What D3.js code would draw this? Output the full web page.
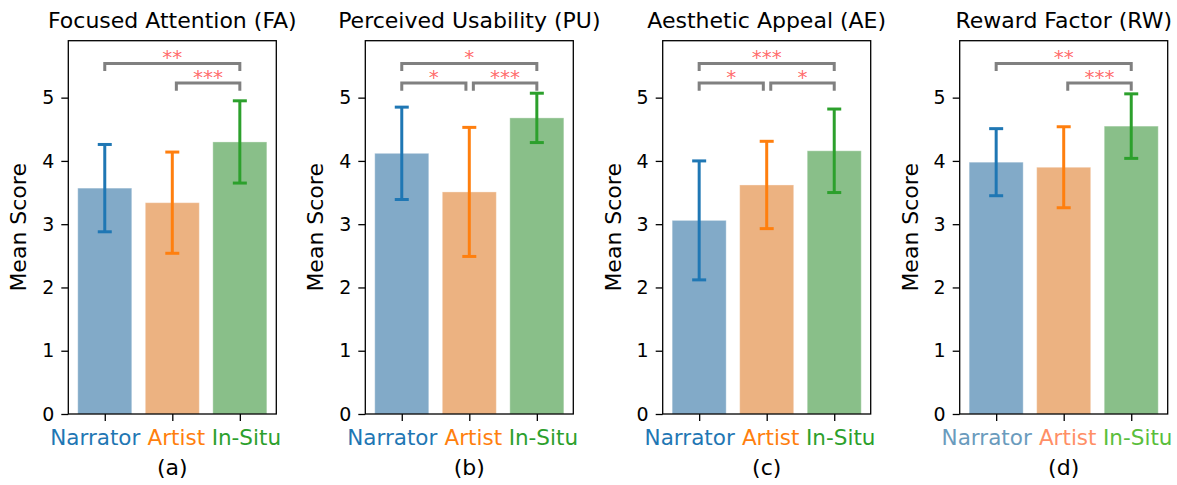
<!DOCTYPE html>
<html>
<head>
<meta charset="utf-8">
<script src="https://cdn.jsdelivr.net/npm/d3@7/dist/d3.min.js"></script>
<style>
  body { margin: 0; background: #fff; }
  svg text { font-family: "DejaVu Sans", sans-serif; }
</style>
</head>
<body>
<div id="chart"></div>
<script>
// ── Data ─────────────────────────────────────────────
const titles    = ["Focused Attention (FA)", "Perceived Usability (PU)", "Aesthetic Appeal (AE)", "Reward Factor (RW)"];
const subLabels = ["(a)", "(b)", "(c)", "(d)"];
const groups    = ["Narrator", "Artist", "In-Situ"];
const means = [
    [3.57, 3.34, 4.30],
    [4.12, 3.51, 4.68],
    [3.06, 3.62, 4.16],
    [3.98, 3.90, 4.55]
];
const sds = [
    [0.69, 0.80, 0.65],
    [0.73, 1.02, 0.39],
    [0.94, 0.69, 0.66],
    [0.53, 0.64, 0.51]
];
// [from, to, stars, level]
const brackets = [
    [[0, 2, "**", 0], [1, 2, "***", 1]],
    [[0, 2, "*", 0], [0, 1, "*", 1], [1, 2, "***", 1]],
    [[0, 2, "***", 0], [0, 1, "*", 1], [1, 2, "*", 1]],
    [[0, 2, "**", 0], [1, 2, "***", 1]]
];
const yTicks = [0, 1, 2, 3, 4, 5];

// ── Styles ───────────────────────────────────────────
const barFill   = ["#82aac8", "#ecb281", "#89bf89"];
const lineColor = ["#1f77b4", "#ff7f0e", "#2ca02c"];
const tickColor = [
    ["#1f77b4", "#ff7f0e", "#2ca02c"],
    ["#1f77b4", "#ff7f0e", "#2ca02c"],
    ["#1f77b4", "#ff7f0e", "#2ca02c"],
    ["#6a9bbd", "#ff8f66", "#5abe3c"]
];
const labelShift = [-10, 3.5, 6];   // x tick labels sit slightly off their ticks
const levelY = [5.54, 5.23];
const tipDrop = 0.12;

const W = 1177, H = 485;
const axLefts = [68.3, 365.3, 662.7, 959.7];
const axW = 208, axTop = 40.7, axBottom = 414;

const svg = d3.select("#chart").append("svg").attr("width", W).attr("height", H);

titles.forEach((title, p) => {
    const g = svg.append("g").attr("transform", `translate(${axLefts[p]},${axTop})`);
    const ih = axBottom - axTop;
    const x = d3.scaleLinear().domain([-0.54, 2.54]).range([0, axW]);
    const y = d3.scaleLinear().domain([0, 5.9]).range([ih, 0]);
    const bw = x(0.8) - x(0);

    // bars
    g.selectAll("rect.bar").data(means[p]).enter().append("rect")
        .attr("x", (d, i) => x(i) - bw / 2)
        .attr("y", d => y(d))
        .attr("width", bw)
        .attr("height", d => y(0) - y(d))
        .attr("fill", (d, i) => barFill[i])
        .attr("stroke", "#ffffff").attr("stroke-opacity", 0.35).attr("stroke-width", 1);

    // error bars
    means[p].forEach((m, i) => {
        const s = sds[p][i];
        const eg = g.append("g").attr("stroke", lineColor[i]).attr("stroke-width", 3);
        eg.append("line").attr("x1", x(i)).attr("x2", x(i)).attr("y1", y(m + s)).attr("y2", y(m - s));
        [m + s, m - s].forEach(v => {
            eg.append("line").attr("x1", x(i) - 7).attr("x2", x(i) + 7).attr("y1", y(v)).attr("y2", y(v));
        });
    });

    // significance brackets
    brackets[p].forEach(([a, b, stars, lvl]) => {
        const x1 = x(a) + (a === 1 ? 0.06 * (x(1) - x(0)) : 0);
        const x2 = x(b) - (b === 1 ? 0.05 * (x(1) - x(0)) : 0);
        const yb = y(levelY[lvl]), yt = y(levelY[lvl] - tipDrop);
        g.append("path")
            .attr("d", `M${x1},${yt}V${yb}H${x2}V${yt}`)
            .attr("fill", "none").attr("stroke", "#808080").attr("stroke-width", 3);
        g.append("text")
            .attr("x", (x1 + x2) / 2).attr("y", yb + 1)
            .attr("text-anchor", "middle").attr("font-size", 20)
            .attr("fill", "#ff5a5a").attr("fill-opacity", 0.9)
            .text(stars);
    });

    // axes
    const ya = g.append("g").call(d3.axisLeft(y).tickValues(yTicks).tickFormat(d3.format("d")).tickSize(7).tickPadding(7));
    ya.selectAll("text").attr("font-size", 19).attr("fill", "#000");
    ya.selectAll("line").attr("stroke", "#000").attr("stroke-width", 1.3);
    ya.select(".domain").remove();

    const xa = g.append("g").attr("transform", `translate(0,${ih})`)
        .call(d3.axisBottom(x).tickValues([0, 1, 2]).tickFormat(i => groups[i]).tickSize(7).tickPadding(9));
    xa.selectAll("text").attr("font-size", 21.5)
        .attr("dx", i => labelShift[i])
        .attr("fill", i => tickColor[p][i]);
    xa.selectAll("line").attr("stroke", "#000").attr("stroke-width", 1.3);
    xa.select(".domain").remove();

    // frame
    g.append("rect").attr("width", axW).attr("height", ih)
        .attr("fill", "none").attr("stroke", "#000").attr("stroke-width", 1.3);

    // labels
    g.append("text").attr("x", axW / 2).attr("y", -13)
        .attr("text-anchor", "middle").attr("font-size", 22).text(title);
    g.append("text").attr("transform", "rotate(-90)")
        .attr("x", -ih / 2).attr("y", -42)
        .attr("text-anchor", "middle").attr("font-size", 22).text("Mean Score");
    g.append("text").attr("x", axW / 2).attr("y", ih + 61)
        .attr("text-anchor", "middle").attr("font-size", 22).text(subLabels[p]);
});
</script>
</body>
</html>
